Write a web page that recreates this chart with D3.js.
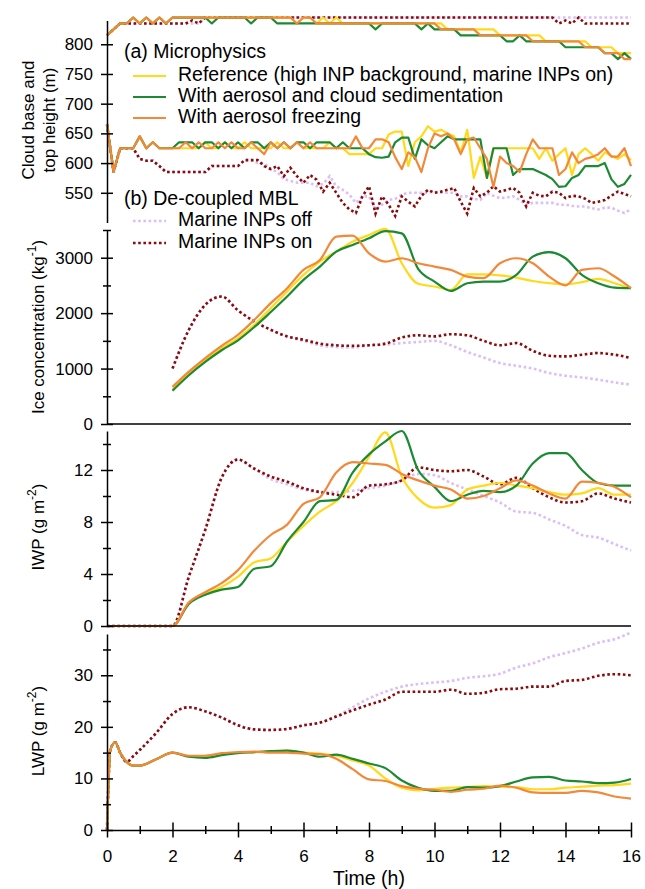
<!doctype html>
<html>
<head>
<meta charset="UTF-8">
<title>cloud heights, ice and liquid paths</title>
<script src="https://d3js.org/d3.v7.min.js"></script>
<style>
  body{margin:0;background:#fff;}
  text{font-family:"Liberation Sans",Arial,sans-serif;font-size:17px;fill:#000;}
  text.leg{font-size:19.5px;}
</style>
</head>
<body>
<svg id="chart" width="645" height="889"></svg>
<script>
// ---- time axis ----
var timeTicks = [0,1,2,3,4,5,6,7,8,9,10,11,12,13,14,15,16];
var timeLabels = [0,2,4,6,8,10,12,14,16];

// ---- (top) cloud top and base height (m), every 0.2 h ----
var hT = d3.range(0, 81).map(function(i){ return i*0.2; });

var topRef = [815,825,835,835,845,835,845,835,845,835, 845,845,845,845,845,845,845,845,845,845,
              845,845,845,845,845,845,845,845,845,835, 845,845,835,845,835,845,835,835,835,835,
              835,835,835,835,835,835,835,835,835,835, 835,835,825,825,825,825,825,825,825,825,
              815,815,815,815,815,815,815,805,805,805, 805,805,805,805,795,795,795,795,785,785, 785];
var topSed = [815,825,835,835,845,835,845,835,845,835, 845,845,845,845,845,845,835,845,845,845,
              845,845,835,845,845,845,835,835,835,835, 835,835,835,835,835,835,835,835,835,835,
              835,825,835,835,835,835,835,835,825,835, 825,825,825,825,815,815,815,815,815,815,
              815,805,805,815,805,805,805,805,805,805, 795,795,795,795,795,795,785,785,775,785, 775];
var topFrz = [815,825,835,835,845,835,845,835,845,835, 845,845,845,845,845,845,845,845,845,845,
              845,845,845,845,845,845,845,845,845,835, 845,845,835,835,835,835,835,835,835,835,
              835,835,835,835,835,835,835,835,835,835, 835,825,825,825,825,825,825,815,815,815,
              815,815,815,815,815,805,805,805,805,805, 805,805,805,795,795,795,785,785,785,775, 775];
var topOff = [815,825,835,835,835,835,835,835,835,835, 835,835,835,835,835,845,845,845,845,845,
              845,845,845,845,845,845,845,845,845,845, 845,845,845,845,845,845,845,845,845,845,
              845,845,845,845,845,845,845,845,845,845, 845,845,845,845,845,845,845,845,845,845,
              845,845,845,845,845,845,845,845,845,845, 845,845,845,845,845,845,845,845,845,845, 845];
var topOn  = [815,825,835,835,835,835,835,835,835,835, 835,835,835,840,835,845,845,845,845,845,
              845,845,845,845,845,845,845,845,845,845, 845,845,845,845,845,845,845,845,845,845,
              845,845,845,845,845,845,845,845,845,845, 845,845,845,845,845,845,845,845,845,845,
              845,845,845,845,845,845,845,845,845,835, 840,835,845,835,835,835,835,835,835,835, 835];

var baseRef = [665,585,625,625,625,645,625,635,625,625, 625,625,625,625,625,635,625,625,635,625,
               625,635,625,625,625,625,635,625,625,635, 625,625,625,625,635,625,625,615,615,615,
               615,625,625,648,653,653,595,635,645,662, 653,656,650,645,618,656,575,611,575,625,
               625,625,625,625,625,625,607,625,604,615, 625,580,615,625,615,604,618,612,607,615, 605];
var baseSed = [665,585,625,625,625,645,625,635,625,625, 625,635,635,635,625,635,635,625,635,625,
               635,625,635,635,625,635,625,635,625,635, 635,625,635,635,635,625,635,625,625,625,
               615,610,609,611,635,643,643,607,640,630, 625,635,645,640,640,640,640,640,575,625,
               625,625,580,590,590,590,585,580,573,560, 561,575,580,595,595,595,600,573,560,565, 580];
var baseFrz = [665,585,625,625,625,645,625,635,625,625, 625,625,635,625,635,625,625,635,625,635,
               625,625,635,625,615,635,625,635,625,635, 625,635,625,625,625,625,625,625,645,625,
               625,640,640,635,610,590,618,610,585,625, 650,645,650,640,615,640,643,625,607,560,
               611,600,595,585,615,640,625,625,625,580, 590,618,600,607,610,615,625,611,611,625, 595];
var baseOff = [665,585,625,625,625,607,604,604,595,585, 585,585,585,585,585,585,595,595,595,595,
               595,605,605,600,600,590,585,573,570,567, 567,567,561,565,578,561,555,547,533,544,
               544,522,530,538,540,547,550,550,550,550, 552,550,550,550,544,544,540,538,550,545,
               541,542,544,538,530,533,533,533,533,530, 530,528,527,527,524,522,525,525,520,516, 522];
var baseOn  = [665,585,625,625,625,607,604,604,595,585, 585,585,585,585,585,585,595,595,595,595,
               595,605,605,605,595,590,595,578,592,578, 567,580,572,552,567,550,533,522,516,544,
               561,515,544,530,511,544,535,527,545,555, 550,552,555,558,535,515,558,544,550,561,
               552,555,558,550,527,550,545,544,552,550, 541,545,544,540,533,535,538,545,552,548, 544];

// ---- ice concentration (kg-1), from 2 h every 0.5 h ----
var iceT = [2,2.5,3,3.5,4,4.5,5,5.5,6,6.5,7,7.5,8,8.5,9,9.5,10,10.5,11,11.5,12,12.5,13,13.5,14,14.5,15,15.5,16];
var iceRef = [620,915,1160,1370,1550,1790,2090,2390,2690,2930,3110,3290,3410,3520,2900,2530,2480,2420,2700,2700,2680,2640,2580,2540,2520,2560,2620,2540,2450];
var iceSed = [600,880,1120,1330,1510,1750,2020,2300,2600,2840,3110,3230,3350,3480,3440,2800,2570,2400,2540,2570,2570,2690,3020,3100,2990,2690,2540,2460,2450];
var iceFrz = [670,945,1190,1410,1610,1880,2180,2450,2780,2960,3380,3400,3080,2930,2990,2900,2840,2780,2660,2630,2900,2990,2900,2660,2500,2780,2810,2660,2450];
var iceOff = [1000,1700,2150,2300,2050,1850,1700,1580,1500,1420,1390,1380,1420,1430,1460,1480,1500,1420,1300,1200,1100,1050,1000,920,870,840,800,750,710];
var iceOn  = [1000,1700,2150,2300,2050,1850,1700,1580,1520,1450,1420,1410,1420,1450,1560,1600,1580,1620,1600,1500,1420,1460,1320,1230,1220,1250,1280,1250,1190];

// ---- IWP (g m-2), every 0.5 h ----
var iwpT = [0,0.5,1,1.5,2,2.5,3,3.5,4,4.5,5,5.5,6,6.5,7,7.5,8,8.5,9,9.5,10,10.5,11,11.5,12,12.5,13,13.5,14,14.5,15,15.5,16];
var iwpRef = [0,0,0,0,0,1.8,2.5,3.0,3.8,4.9,5.2,6.5,7.7,8.8,9.6,11.0,13.0,14.9,11.5,9.8,9.1,9.3,10.5,10.8,11.0,10.8,10.6,10.3,10.1,10.2,10.6,10.1,10.1];
var iwpSed = [0,0,0,0,0,1.7,2.4,2.8,3.0,4.4,4.6,6.5,8.0,9.6,9.7,11.8,13.2,14.2,15.0,12.0,10.7,9.6,10.1,10.4,10.3,10.8,12.5,13.3,13.3,12.0,11.0,10.8,10.8];
var iwpFrz = [0,0,0,0,0,1.8,2.6,3.3,4.3,5.8,7.0,7.8,9.4,9.9,11.8,12.6,12.5,12.4,11.7,11.2,10.8,10.5,9.8,10.0,10.6,11.2,10.8,10.2,9.8,11.1,11.0,10.7,9.9];
var iwpOff = [0,0,0,0,0,3.8,7.4,11.4,12.8,12.1,11.3,10.9,10.5,10.3,10.3,10.4,10.6,10.8,11.2,11.7,11.6,11.0,10.5,10.0,9.5,8.8,8.7,8.2,7.7,7.0,6.8,6.3,5.8];
var iwpOn  = [0,0,0,0,0,3.8,7.4,11.4,12.8,12.1,11.5,11.1,10.6,10.3,10.1,9.9,10.8,10.9,11.2,12.2,12.0,11.9,12.0,11.5,10.9,11.4,10.6,9.9,9.5,9.6,10.2,9.8,9.5];

// ---- LWP (g m-2) ----
var lwpT = [0,0.05,0.1,0.25,0.4,0.6,0.8,1,1.5,2,2.5,3,3.5,4,4.5,5,5.5,6,6.5,7,7.5,8,8.5,9,9.5,10,10.5,11,11.5,12,12.5,13,13.5,14,14.5,15,15.5,16];
var lwpRef = [0,10,15.5,17,15,13.2,12.5,12.5,13.7,15.0,14.3,14.4,14.7,15.0,15.1,15.2,15.4,15.0,14.8,14.4,13.5,12.5,10.0,8.2,7.7,8.0,8.2,8.3,8.5,8.4,8.3,7.9,7.9,8.2,8.4,8.6,8.7,9.0];
var lwpSed = [0,10,15.5,17,15,13.2,12.5,12.5,13.7,15.0,14.2,14.0,14.5,14.9,15.1,15.3,15.4,15.0,14.2,14.6,13.8,12.9,12.0,9.6,8.2,7.6,7.6,8.3,8.2,8.5,9.4,10.2,10.3,9.6,9.4,9.1,9.2,9.9];
var lwpFrz = [0,10,15.5,17,15,13.2,12.5,12.5,13.7,15.0,14.4,14.4,14.9,15.1,15.2,15.0,15.0,14.8,14.7,13.8,11.8,9.8,9.5,8.5,8.0,7.8,7.4,7.8,8.0,8.6,8.2,7.3,7.2,7.2,7.6,7.3,6.5,6.1];
var lwpOff = [0,10,15.5,17,15,13.2,14.3,15.5,18.8,22.5,23.8,23.0,21.8,20.3,19.5,19.4,19.6,20.3,20.8,22.0,23.8,25.5,26.8,27.8,28.3,28.6,28.9,29.5,29.8,30.3,31.5,32.3,33.5,34.3,35.2,36.3,37.0,38.3];
var lwpOn  = [0,10,15.5,17,15,13.2,14.3,15.5,18.8,22.5,23.8,23.0,21.8,20.3,19.5,19.4,19.6,20.3,20.8,22.0,23.2,24.3,25.3,26.8,26.8,26.8,27.2,26.4,26.6,27.3,27.4,27.8,27.8,28.9,29.1,29.9,30.2,30.0];

// legend names
var microNames = ["Reference (high INP background, marine INPs on)", "With aerosol and cloud sedimentation", "With aerosol freezing"];
var mblNames = ["Marine INPs off", "Marine INPs on"];

var col = {ref:"#ffd91a", sed:"#1b8a32", frz:"#f2893a", off:"#dcbdf5", on:"#8b0a0a"};

var svg = d3.select("#chart");
var x = d3.scaleLinear().domain([0,16]).range([107,631]);

var panels = [
  {y: d3.scaleLinear().domain([500,840]).range([222.5,20.5]), all:[550,600,650,700,750,800], labels:[550,600,650,700,750,800], curve:d3.curveLinear, zeroLine:false,
   series:[[hT,topOff,"off"],[hT,baseOff,"off"],[hT,topOn,"on"],[hT,baseOn,"on"],
           [hT,topRef,"ref"],[hT,baseRef,"ref"],[hT,topSed,"sed"],[hT,baseSed,"sed"],[hT,topFrz,"frz"],[hT,baseFrz,"frz"]]},
  {y: d3.scaleLinear().domain([0,3500]).range([424,230]), all:[0,500,1000,1500,2000,2500,3000,3500], labels:[0,1000,2000,3000], curve:d3.curveMonotoneX, zeroLine:true,
   series:[[iceT,iceOff,"off"],[iceT,iceOn,"on"],[iceT,iceRef,"ref"],[iceT,iceSed,"sed"],[iceT,iceFrz,"frz"]]},
  {y: d3.scaleLinear().domain([0,15]).range([626,431]), all:[0,2,4,6,8,10,12,14], labels:[0,4,8,12], curve:d3.curveMonotoneX, zeroLine:true,
   series:[[iwpT,iwpOff,"off"],[iwpT,iwpOn,"on"],[iwpT,iwpRef,"ref"],[iwpT,iwpSed,"sed"],[iwpT,iwpFrz,"frz"]]},
  {y: d3.scaleLinear().domain([0,38]).range([830,634]), all:[0,5,10,15,20,25,30,35], labels:[0,10,20,30], curve:d3.curveMonotoneX, zeroLine:false,
   series:[[lwpT,lwpOff,"off"],[lwpT,lwpOn,"on"],[lwpT,lwpRef,"ref"],[lwpT,lwpSed,"sed"],[lwpT,lwpFrz,"frz"]]}
];

function styleLine(sel, key){
  sel.attr("fill","none").attr("stroke", col[key]);
  if(key=="off" || key=="on"){
    sel.attr("stroke-width",2.6).attr("stroke-dasharray","2.6,2.6");
  } else {
    sel.attr("stroke-width",2.2).attr("stroke-linejoin","round");
  }
}

panels.forEach(function(p){
  var line = d3.line().curve(p.curve);
  p.series.forEach(function(s){
    var pts = s[0].map(function(t,i){ return [x(t), p.y(s[1][i])]; });
    svg.append("path").attr("d", line(pts)).call(styleLine, s[2]);
  });

  var g = svg.append("g").attr("transform","translate(107,0)")
    .call(d3.axisLeft(p.y).tickValues(p.all).tickSize(6).tickSizeOuter(0).tickPadding(8)
      .tickFormat(function(d){ return p.labels.indexOf(d)>=0 ? d : ""; }));
  g.select(".domain").attr("stroke-width",1.5);
  g.selectAll(".tick line").attr("stroke-width",1.5)
    .attr("x1", function(d){ return p.labels.indexOf(d)>=0 ? 6 : 4; })
    .attr("x2", function(d){ return p.labels.indexOf(d)>=0 ? -6 : -4; });

  if(p.zeroLine){
    svg.append("line").attr("x1",x(0)).attr("x2",x(16)).attr("y1",p.y(0)).attr("y2",p.y(0))
      .attr("stroke","#000").attr("stroke-width",1.5);
  }
});

// bottom time axis
var xa = svg.append("g").attr("transform","translate(0,"+panels[3].y(0)+")")
  .call(d3.axisBottom(x).tickValues(timeTicks).tickSize(7.5).tickSizeOuter(0).tickPadding(12.5)
    .tickFormat(function(d){ return timeLabels.indexOf(d)>=0 ? d : ""; }));
xa.select(".domain").attr("stroke-width",1.5);
xa.selectAll(".tick line").attr("stroke-width",1.5)
  .attr("y1", function(d){ return timeLabels.indexOf(d)>=0 ? -7.5 : -4; })
  .attr("y2", function(d){ return timeLabels.indexOf(d)>=0 ? 7.5 : 4; });
svg.append("text").attr("x", x(8)).attr("y", 885).attr("text-anchor","middle").style("font-size","19.5px").text("Time (h)");

// y titles
function yTitle(cx, cy, main, sup){
  var t = svg.append("text").attr("transform","translate("+cx+","+cy+") rotate(-90)").attr("text-anchor","middle");
  t.append("tspan").text(main);
  if(sup){
    t.append("tspan").attr("dy",-8).style("font-size","12px").text(sup);
    t.append("tspan").attr("dy",8).text(")");
  }
}
yTitle(34, 120, "Cloud base and");
yTitle(55, 120, "top height (m)");
yTitle(44, 327, "Ice concentration (kg", "-1");
yTitle(44, 527, "IWP (g m", "-2");
yTitle(44, 731, "LWP (g m", "-2");

// legend
svg.append("text").attr("class","leg").attr("x",124).attr("y",53).attr("dominant-baseline","middle").text("(a) Microphysics");
var microKeys = ["ref","sed","frz"];
microNames.forEach(function(n,i){
  var yy = 76 + i*21;
  svg.append("line").attr("x1",133).attr("x2",166).attr("y1",yy).attr("y2",yy).call(styleLine, microKeys[i]);
  svg.append("text").attr("class","leg").attr("x",178).attr("y",yy).attr("dominant-baseline","middle").text(n);
});
svg.append("text").attr("class","leg").attr("x",124).attr("y",200).attr("dominant-baseline","middle").text("(b) De-coupled MBL");
var mblKeys = ["off","on"];
mblNames.forEach(function(n,i){
  var yy = 221 + i*22;
  svg.append("line").attr("x1",133).attr("x2",166).attr("y1",yy).attr("y2",yy).call(styleLine, mblKeys[i]);
  svg.append("text").attr("class","leg").attr("x",178).attr("y",yy).attr("dominant-baseline","middle").text(n);
});
</script>
</body>
</html>
